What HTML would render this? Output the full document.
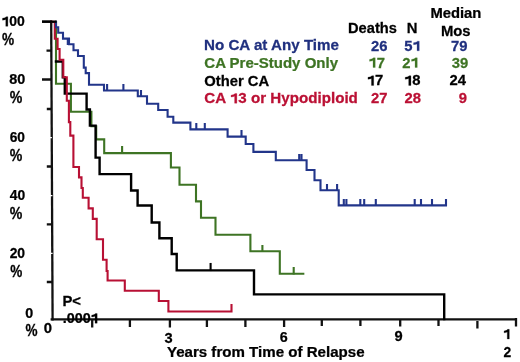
<!DOCTYPE html>
<html><head><meta charset="utf-8">
<style>
html,body{margin:0;padding:0;background:#fff;width:520px;height:362px;overflow:hidden}
svg{display:block;will-change:transform}
text{font-family:"Liberation Sans",sans-serif;font-weight:bold;font-size:14px;stroke-width:0.25px}
.h{fill-opacity:0;stroke-opacity:0}
path.one{stroke-width:36px}
</style></head><body>
<svg width="520" height="362" viewBox="0 0 520 362">
<rect width="520" height="362" fill="#fff"/>
<!-- axes -->
<g stroke="#111" stroke-width="2.3" fill="none">
<path d="M51.2,20.6 L52.6,320.4"/>
<path d="M50.6,319.3 H517"/>
<path d="M42,21.7 H52 M46.5,50.6 H52 M42,79.5 H52 M46.8,109 H52 M46.8,166.5 H52 M46.8,224.4 H52 M46.8,282 H52"/>
<path d="M92.2,319.3 V327.4 M129.9,319.3 V327 M169.9,319.3 V327.4 M206.9,319.3 V327 M245.4,319.3 V327 M284.1,319.3 V327 M321.8,319.3 V326 M360.4,319.3 V326 M400.2,319.3 V326.6 M438.5,319.3 V326 M477.4,321 V328.5 M516,318 V326.4"/>
</g>
<g stroke="#fff" stroke-width="1.2"><path d="M50,137.7 H51.9 M50,195.7 H52.4 M50,253.4 H52.6"/></g>
<!-- curves -->
<g fill="none" stroke-width="2.1" stroke-linejoin="miter" stroke-linecap="square">
<path stroke="#3e7424" d="M56,21.7 V83.7 H70.9 V111.8 H91.4 V126.3 H96.2 V139.4 H104.2 V153.1 H170.9 V167.5 H179.5 V184.7 H196 V201.4 H201 V217.8 H215.5 V234.8 H250.4 V251.3 H279.8 V273.8 H303.3"/>
<path stroke="#3e7424" d="M122.1,147 V153 M262.4,246 V251 M293.7,268 V273.5"/>
<path stroke="#000" stroke-width="2.4" d="M56,61.5 H62.8 V77.4 H64.8 V93.6 H86.6 V109.5 H89.9 V125.6 H95.6 V157.6 H99.6 V174.1 H131.1 V190.5 H137.6 V205.5 H151.7 V222.5 H159.4 V238.2 H171.7 V254 H176.7 V270.4 H254 V294.4 H444.2 V319"/>
<path stroke="#000" d="M210.6,264 V270"/>
<path stroke="#b81034" d="M52,21.7 H54.8 V38.8 H57.6 V49 H59.6 V59.8 H63.3 V77.3 H66.8 V100.8 H68.9 V122.1 H70.3 V135.6 H73.4 V167 H79 V177.4 H81.5 V188 H82.8 V197.8 H88.6 V208.4 H92.8 V218.9 H96.7 V239.2 H103 V259.7 H106.6 V271 H107.6 V280.5 H124.8 V290.8 H158.8 V301 H168.4 V311.5 H231.5 V305"/>
<path stroke="#22358a" d="M56,21.7 V27.2 H58.2 V32.7 H63 V38.6 H69 V44.2 H73.5 V50.3 H78 V56 H83.8 V67.6 H85.7 V73.1 H89 V84.8 H104 V90.5 H137.8 V96.3 H147 V103.7 H158.2 V110 H167.6 V116.7 H173.3 V122.6 H190.4 V129.4 H227.6 V136.6 H245.7 V144 H253.4 V151.9 H275.8 V160.2 H306.6 V170 H314.5 V180.2 H320.5 V190.2 H338.7 V205.4 H446 V200"/>
<path stroke="#22358a" d="M67.8,39.5 V44 M107.1,85 V90 M123.4,85 V90 M141,91 V96 M196.3,124 V129 M204.8,124 V129 M241.5,131 V136 M299.2,155 V160 M301.5,155 V160 M327,185 V190 M337.1,185 V190 M343.8,200 V205 M346.4,200 V205 M360.3,200 V205 M364.2,200 V205 M375.8,200 V205 M414.7,200 V205 M421,200 V205 M432,200 V205"/>
</g>
<path stroke="#000" stroke-width="2.3" d="M42,21.7 H56.6"/>
<g transform="matrix(0.998,0,0,1.000,1.45,26.30)"><text x="0" y="0" fill="#000" stroke="#000"><tspan class="h">1</tspan>00</text><path class="one" fill="#000" stroke="#000" transform="translate(0.000,0) scale(0.006836,-0.006836)" d="M633,0 L940,0 L940,1409 L700,1409 Q600,1220 150,1180 L150,900 Q450,930 633,1010 Z"/></g>
<g transform="matrix(0.975,0,0,1.150,1.96,44.60)"><text x="0" y="0" fill="#000" stroke="#000">%</text></g>
<g transform="matrix(1.027,0,0,1.000,9.14,83.80)"><text x="0" y="0" fill="#000" stroke="#000">80</text></g>
<g transform="matrix(1.008,0,0,1.150,9.65,102.60)"><text x="0" y="0" fill="#000" stroke="#000">%</text></g>
<g transform="matrix(0.980,0,0,1.000,9.65,141.80)"><text x="0" y="0" fill="#000" stroke="#000">60</text></g>
<g transform="matrix(1.008,0,0,1.150,9.65,160.60)"><text x="0" y="0" fill="#000" stroke="#000">%</text></g>
<g transform="matrix(0.990,0,0,1.000,9.70,199.80)"><text x="0" y="0" fill="#000" stroke="#000">40</text></g>
<g transform="matrix(1.008,0,0,1.150,9.65,218.60)"><text x="0" y="0" fill="#000" stroke="#000">%</text></g>
<g transform="matrix(0.993,0,0,1.000,9.65,257.80)"><text x="0" y="0" fill="#000" stroke="#000">20</text></g>
<g transform="matrix(0.967,0,0,1.150,10.16,276.60)"><text x="0" y="0" fill="#000" stroke="#000">%</text></g>
<g transform="matrix(1.021,0,0,1.000,25.24,317.50)"><text x="0" y="0" fill="#000" stroke="#000">0</text></g>
<g transform="matrix(0.967,0,0,1.150,25.56,335.60)"><text x="0" y="0" fill="#000" stroke="#000">%</text></g>
<g transform="matrix(1.062,0,0,1.000,43.83,333.40)"><text x="0" y="0" fill="#000" stroke="#000">0</text></g>
<g transform="matrix(1.048,0,0,1.000,164.54,343.00)"><text x="0" y="0" fill="#000" stroke="#000">3</text></g>
<g transform="matrix(1.021,0,0,1.000,279.74,341.70)"><text x="0" y="0" fill="#000" stroke="#000">6</text></g>
<g transform="matrix(1.048,0,0,1.000,394.54,341.40)"><text x="0" y="0" fill="#000" stroke="#000">9</text></g>
<g transform="matrix(0.967,0,0,1.000,503.08,339.00)"><text x="0" y="0" fill="#000" stroke="#000"><tspan class="h">1</tspan></text><path class="one" fill="#000" stroke="#000" transform="translate(0.000,0) scale(0.006836,-0.006836)" d="M633,0 L940,0 L940,1409 L700,1409 Q600,1220 150,1180 L150,900 Q450,930 633,1010 Z"/></g>
<g transform="matrix(0.993,0,0,1.000,503.55,357.30)"><text x="0" y="0" fill="#000" stroke="#000">2</text></g>
<g transform="matrix(1.079,0,0,1.000,166.90,356.60)"><text x="0" y="0" fill="#000" stroke="#000">Years from Time of Relapse</text></g>
<g transform="matrix(1.060,0,0,1.000,62.46,305.60)"><text x="0" y="0" fill="#000" stroke="#000">P&lt;</text></g>
<g transform="matrix(1.023,0,0,1.000,62.73,323.20)"><text x="0" y="0" fill="#000" stroke="#000">.000<tspan class="h">1</tspan></text><path class="one" fill="#000" stroke="#000" transform="translate(27.250,0) scale(0.006836,-0.006836)" d="M633,0 L940,0 L940,1409 L700,1409 Q600,1220 150,1180 L150,900 Q450,930 633,1010 Z"/></g>
<g transform="matrix(1.084,0,0,1.000,203.99,50.00)"><text x="0" y="0" fill="#20307f" stroke="#20307f">No CA at Any Time</text></g>
<g transform="matrix(1.073,0,0,1.000,204.33,67.60)"><text x="0" y="0" fill="#3e7424" stroke="#3e7424">CA Pre-Study Only</text></g>
<g transform="matrix(1.056,0,0,1.000,204.34,85.60)"><text x="0" y="0" fill="#000" stroke="#000">Other CA</text></g>
<g transform="matrix(1.084,0,0,1.000,204.33,103.20)"><text x="0" y="0" fill="#bb1034" stroke="#bb1034">CA <tspan class="h">1</tspan>3 or Hypodiploid</text><path class="one" fill="#bb1034" stroke="#bb1034" transform="translate(23.594,0) scale(0.006836,-0.006836)" d="M633,0 L940,0 L940,1409 L700,1409 Q600,1220 150,1180 L150,900 Q450,930 633,1010 Z"/></g>
<g transform="matrix(1.048,0,0,1.000,348.01,33.40)"><text x="0" y="0" fill="#000" stroke="#000">Deaths</text></g>
<g transform="matrix(1.060,0,0,1.000,406.77,33.40)"><text x="0" y="0" fill="#000" stroke="#000">N</text></g>
<g transform="matrix(1.057,0,0,1.000,430.41,17.60)"><text x="0" y="0" fill="#000" stroke="#000">Median</text></g>
<g transform="matrix(1.060,0,0,1.000,440.93,36.00)"><text x="0" y="0" fill="#000" stroke="#000">Mos</text></g>
<g transform="matrix(1.060,0,0,1.000,371.04,50.80)"><text x="0" y="0" fill="#20307f" stroke="#20307f">26</text></g>
<g transform="matrix(1.060,0,0,1.000,404.18,50.80)"><text x="0" y="0" fill="#20307f" stroke="#20307f">5<tspan class="h">1</tspan></text><path class="one" fill="#20307f" stroke="#20307f" transform="translate(7.797,0) scale(0.006836,-0.006836)" d="M633,0 L940,0 L940,1409 L700,1409 Q600,1220 150,1180 L150,900 Q450,930 633,1010 Z"/></g>
<g transform="matrix(1.060,0,0,1.000,451.04,50.80)"><text x="0" y="0" fill="#20307f" stroke="#20307f">79</text></g>
<g transform="matrix(1.060,0,0,1.000,368.42,67.50)"><text x="0" y="0" fill="#3e7424" stroke="#3e7424"><tspan class="h">1</tspan>7</text><path class="one" fill="#3e7424" stroke="#3e7424" transform="translate(0.000,0) scale(0.006836,-0.006836)" d="M633,0 L940,0 L940,1409 L700,1409 Q600,1220 150,1180 L150,900 Q450,930 633,1010 Z"/></g>
<g transform="matrix(1.060,0,0,1.000,402.18,67.50)"><text x="0" y="0" fill="#3e7424" stroke="#3e7424">2<tspan class="h">1</tspan></text><path class="one" fill="#3e7424" stroke="#3e7424" transform="translate(7.797,0) scale(0.006836,-0.006836)" d="M633,0 L940,0 L940,1409 L700,1409 Q600,1220 150,1180 L150,900 Q450,930 633,1010 Z"/></g>
<g transform="matrix(1.060,0,0,1.000,451.79,67.50)"><text x="0" y="0" fill="#3e7424" stroke="#3e7424">39</text></g>
<g transform="matrix(1.060,0,0,1.000,366.87,85.40)"><text x="0" y="0" fill="#000" stroke="#000"><tspan class="h">1</tspan>7</text><path class="one" fill="#000" stroke="#000" transform="translate(0.000,0) scale(0.006836,-0.006836)" d="M633,0 L940,0 L940,1409 L700,1409 Q600,1220 150,1180 L150,900 Q450,930 633,1010 Z"/></g>
<g transform="matrix(1.060,0,0,1.000,404.12,85.40)"><text x="0" y="0" fill="#000" stroke="#000"><tspan class="h">1</tspan>8</text><path class="one" fill="#000" stroke="#000" transform="translate(0.000,0) scale(0.006836,-0.006836)" d="M633,0 L940,0 L940,1409 L700,1409 Q600,1220 150,1180 L150,900 Q450,930 633,1010 Z"/></g>
<g transform="matrix(1.060,0,0,1.000,449.52,85.40)"><text x="0" y="0" fill="#000" stroke="#000">24</text></g>
<g transform="matrix(1.060,0,0,1.000,371.04,103.00)"><text x="0" y="0" fill="#bb1034" stroke="#bb1034">27</text></g>
<g transform="matrix(1.060,0,0,1.000,404.39,103.00)"><text x="0" y="0" fill="#bb1034" stroke="#bb1034">28</text></g>
<g transform="matrix(1.060,0,0,1.000,458.69,103.00)"><text x="0" y="0" fill="#bb1034" stroke="#bb1034">9</text></g>
</svg>
</body></html>
